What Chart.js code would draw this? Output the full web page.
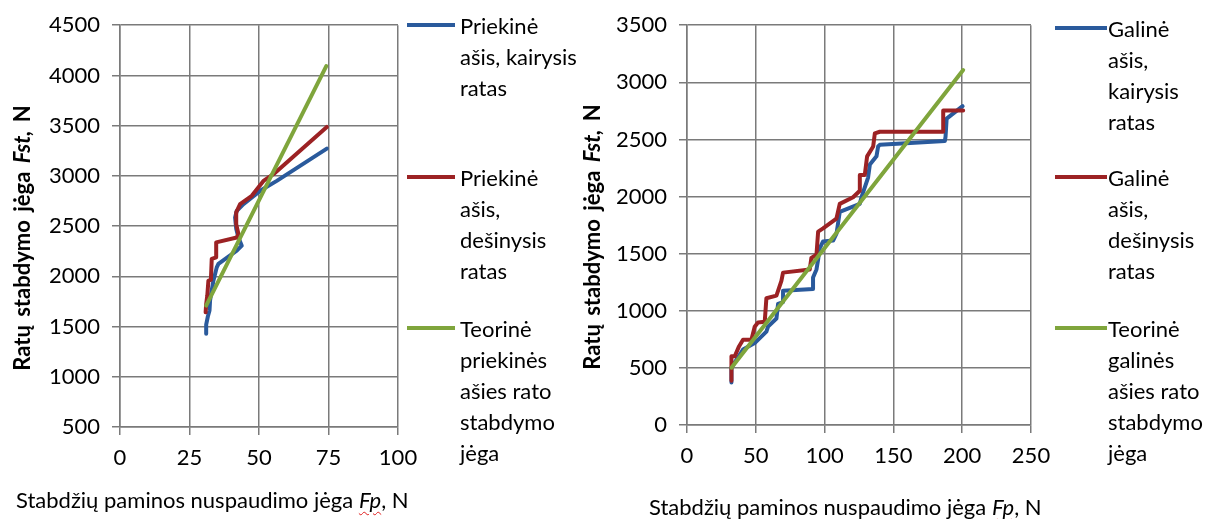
<!DOCTYPE html>
<html lang="lt">
<head>
<meta charset="utf-8">
<title>Ratų stabdymo jėga</title>
<script src="https://cdn.jsdelivr.net/npm/chart.js@4.4.1/dist/chart.umd.min.js"></script>
<style>
    html, body { margin: 0; padding: 0; background: #fff; }
    #wrap { position: relative; width: 1209px; height: 519px; overflow: hidden; font-family: Lato, 'Open Sans', sans-serif; color: #000; }
    canvas { position: absolute; top: 0; }
    .ytitle { position: absolute; width: 360px; text-align: center; font-weight: 700; font-size: 22px; line-height: 26px; white-space: nowrap; transform: rotate(-90deg); word-spacing: 3px; }
    .xtitle { position: absolute; font-size: 22px; line-height: 26px; white-space: nowrap; }
    .spell { text-decoration: underline wavy #e02020; text-decoration-thickness: 1px; text-underline-offset: 3px; }
    .legend-text { position: absolute; font-size: 22px; line-height: 31px; white-space: nowrap; }
    .legend-line { position: absolute; height: 4px; }
</style>
</head>
<body>
<div id="wrap">
    <canvas id="frontChart" width="440" height="519" style="left:0"></canvas>
    <canvas id="rearChart" width="649" height="519" style="left:560px"></canvas>

    <div class="ytitle" style="left:-158px; top:225px">Ratų stabdymo jėga <i>Fst,</i> N</div>
    <div class="ytitle" style="left:412px; top:224px">Ratų stabdymo jėga <i>Fst,</i> N</div>
    <div class="xtitle" style="left:16px; top:487px">Stabdžių paminos nuspaudimo jėga <i class="spell">Fp</i>, N</div>
    <div class="xtitle" style="left:649px; top:494px">Stabdžių paminos nuspaudimo jėga <i class="spell">Fp</i>, N</div>

    <div id="frontLegend"></div>
    <div id="rearLegend"></div>
</div>

<script>
// Priekinė ašis (left chart)
const frontLeftX = [31.0, 31.0, 31.6, 32.2, 32.4, 33.0, 33.6, 34.8, 35.4, 42.0, 43.8, 42.6, 41.8, 41.4, 42.0, 44.4, 50.4, 56.4, 74.4];
const frontLeftY = [1428, 1520, 1600, 1660, 1760, 1860, 1957, 2089, 2123, 2255, 2305, 2387, 2474, 2586, 2652, 2719, 2851, 2950, 3271];
const frontRightX = [30.8, 31.0, 31.4, 31.8, 32.7, 33.0, 34.6, 34.6, 42.0, 42.6, 41.8, 41.8, 43.2, 47.4, 51.6, 55.2, 74.4];
const frontRightY = [1642, 1725, 1808, 1957, 1964, 2173, 2189, 2338, 2387, 2421, 2520, 2636, 2719, 2802, 2950, 3017, 3487];
const frontTheoryX = [31.0, 74.2];
const frontTheoryY = [1709, 4093];

// Galinė ašis (right chart)
const rearLeftX = [32.3, 32.3, 40.7, 49.2, 57.7, 58.9, 65.0, 66.2, 69.8, 69.8, 91.6, 91.6, 94.1, 95.3, 96.5, 98.9, 106.2, 108.7, 111.0, 125.6, 126.8, 131.6, 132.9, 137.7, 138.9, 140.1, 187.4, 187.9, 188.7, 200.3];
const rearLeftY = [373, 502, 660, 717, 818, 861, 932, 1061, 1076, 1176, 1190, 1291, 1362, 1449, 1549, 1607, 1615, 1678, 1865, 1936, 1994, 2166, 2281, 2352, 2438, 2453, 2487, 2524, 2682, 2791];
const rearRightX = [32.3, 32.3, 34.7, 37.8, 40.7, 46.8, 49.2, 51.6, 56.5, 57.7, 65.0, 68.6, 69.8, 89.2, 90.4, 94.1, 95.3, 98.9, 108.6, 111.0, 120.7, 125.6, 125.6, 129.2, 130.9, 135.3, 136.5, 140.1, 186.2, 186.2, 200.7];
const rearRightY = [387, 602, 602, 688, 746, 746, 861, 898, 904, 1110, 1133, 1262, 1334, 1362, 1463, 1492, 1693, 1721, 1807, 1936, 1994, 2051, 2189, 2189, 2352, 2438, 2553, 2567, 2567, 2754, 2754];
const rearTheoryX = [32.3, 200.7];
const rearTheoryY = [502, 3107];

const frontLabels = [['Priekinė', 'ašis, kairysis', 'ratas'], ['Priekinė', 'ašis,', 'dešinysis', 'ratas'], ['Teorinė', 'priekinės', 'ašies rato', 'stabdymo', 'jėga']];
const rearLabels = [['Galinė', 'ašis,', 'kairysis', 'ratas'], ['Galinė', 'ašis,', 'dešinysis', 'ratas'], ['Teorinė', 'galinės', 'ašies rato', 'stabdymo', 'jėga']];

const colors = ['#2a5a9c', '#9c2224', '#7fa53c'];
const gridColor = '#7a7a7a';

function toPoints(xs, ys) {
    return xs.map((x, i) => ({ x: x, y: ys[i] }));
}

function buildDataset(xs, ys, color, order) {
    return {
        data: toPoints(xs, ys),
        borderColor: color,
        borderWidth: 4,
        showLine: true,
        tension: 0,
        pointRadius: 0,
        borderJoinStyle: 'round',
        borderCapStyle: 'round',
        order: order,
    };
}

function axis(min, max, step, fixedSize, isY) {
    return {
        type: 'linear',
        min: min,
        max: max,
        ticks: {
            stepSize: step,
            color: '#000',
            padding: isY ? 12 : 10,
            font: { family: 'Lato', size: 22 },
            callback: (value) => String(value),
        },
        grid: { color: gridColor, lineWidth: 1.5, tickLength: 8, tickColor: gridColor },
        border: { color: gridColor, width: 1.5 },
        afterFit: (scale) => {
            if (isY) scale.width = fixedSize;
            else scale.height = fixedSize;
        },
    };
}

function makeChart(id, datasets, xScale, yScale, padding) {
    const ctx = document.getElementById(id).getContext('2d');
    return new Chart(ctx, {
        type: 'scatter',
        data: { datasets: datasets },
        options: {
            responsive: false,
            animation: false,
            layout: { padding: padding },
            plugins: { legend: { display: false }, tooltip: { enabled: false } },
            scales: { x: xScale, y: yScale },
        }
    });
}

function drawLegend(containerId, labels, lineLeft, lineWidth, textLeft, centers) {
    const box = document.getElementById(containerId);
    labels.forEach((lines, i) => {
        const line = document.createElement('div');
        line.className = 'legend-line';
        line.style.left = lineLeft + 'px';
        line.style.width = lineWidth + 'px';
        line.style.top = (centers[i] - 2) + 'px';
        line.style.background = colors[i];
        box.appendChild(line);

        const text = document.createElement('div');
        text.className = 'legend-text';
        text.style.left = textLeft + 'px';
        text.style.top = (centers[i] - 15.5) + 'px';
        text.innerHTML = lines.join('<br>');
        box.appendChild(text);
    });
}

makeChart('frontChart', [
    buildDataset(frontLeftX, frontLeftY, colors[0], 3),
    buildDataset(frontRightX, frontRightY, colors[1], 2),
    buildDataset(frontTheoryX, frontTheoryY, colors[2], 1),
], axis(0, 100, 25, 92, false), axis(500, 4500, 500, 120, true), { top: 24, right: 42, left: 0, bottom: 0 });

makeChart('rearChart', [
    buildDataset(rearLeftX, rearLeftY, colors[0], 3),
    buildDataset(rearRightX, rearRightY, colors[1], 2),
    buildDataset(rearTheoryX, rearTheoryY, colors[2], 1),
], axis(0, 250, 50, 94, false), axis(0, 3500, 500, 127, true), { top: 18, right: 178, left: 0, bottom: 0 });

drawLegend('frontLegend', frontLabels, 407, 48, 460, [25, 177, 328]);
drawLegend('rearLegend', rearLabels, 1055, 52, 1108, [28, 177, 328]);
</script>
</body>
</html>
